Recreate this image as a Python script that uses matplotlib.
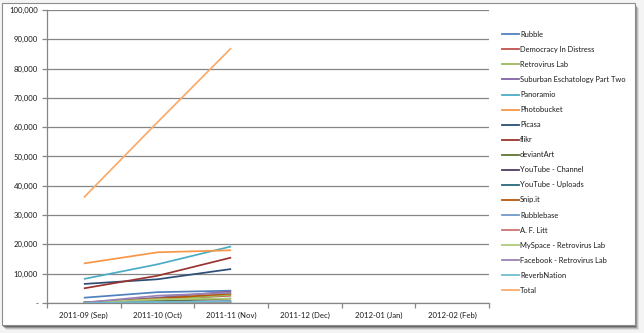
import matplotlib
matplotlib.use("Agg")
import matplotlib.pyplot as plt
from matplotlib.patches import Rectangle
from matplotlib.lines import Line2D

plt.rcParams['font.family'] = ['Lato', 'DejaVu Sans']

# Months on the x axis (only the first three have data)
months = ["2011-09 (Sep)", "2011-10 (Oct)", "2011-11 (Nov)",
          "2011-12 (Dec)", "2012-01 (Jan)", "2012-02 (Feb)"]

# Series names, in legend order
names = ["Rubble", "Democracy In Distress", "Retrovirus Lab",
         "Suburban Eschatology Part Two", "Panoramio", "Photobucket",
         "Picasa", "flikr", "deviantArt", "YouTube - Channel",
         "YouTube - Uploads", "Snip.it", "Rubblebase", "A. F. Litt",
         "MySpace - Retrovirus Lab", "Facebook - Retrovirus Lab",
         "ReverbNation", "Total"]

# Values per series, Sep / Oct / Nov
rubble = [1800, 3700, 4200]
democracy = [300, 1200, 2500]
retrovirus_lab = [200, 1000, 2800]
suburban = [100, 1800, 4000]
panoramio = [8200, 13200, 19300]
photobucket = [13500, 17300, 18000]
picasa = [6500, 8100, 11600]
flikr = [5000, 9300, 15500]
deviantart = [100, 600, 1500]
youtube_channel = [50, 300, 600]
youtube_uploads = [50, 200, 300]
snipit = [0, 1500, 3200]
rubblebase = [100, 400, 500]
af_litt = [0, 100, 200]
myspace = [50, 1300, 1500]
facebook = [100, 2500, 3500]
reverbnation = [0, 300, 500]
total = [36000, 61700, 87000]

series = [rubble, democracy, retrovirus_lab, suburban, panoramio, photobucket,
          picasa, flikr, deviantart, youtube_channel, youtube_uploads, snipit,
          rubblebase, af_litt, myspace, facebook, reverbnation, total]

# Excel 2007 default series colours
colors = ["#4F81BD", "#C0504D", "#9BBB59", "#8064A2", "#4BACC6", "#F79646",
          "#2C4D75", "#9A3431", "#5F7530", "#4D3B62", "#276A7C", "#B65708",
          "#729ACA", "#CD7371", "#AFC97A", "#9983B5", "#6FBDD1", "#F9AB6B"]

W, H = 644, 333
fig = plt.figure(figsize=(W / 100, H / 100), dpi=100)
fig.patch.set_facecolor("#f4f4f4")

# chart frame with drop shadow (kept behind the axes)
for i, a in enumerate([0.10, 0.18, 0.30, 0.45]):
    off = 4 - i
    fig.add_artist(Rectangle(((2 + off) / W, 1 - (326 + off) / H),
                             633 / W, 322 / H, transform=fig.transFigure,
                             facecolor="#303030", edgecolor="none", alpha=a,
                             zorder=-3))
fig.add_artist(Rectangle((2 / W, 1 - 325 / H), 633 / W, 322 / H,
                         transform=fig.transFigure, facecolor="white",
                         edgecolor="#8c8c8c", linewidth=0.8, zorder=-2))

ax = fig.add_axes([47 / W, 1 - 303 / H, (489 - 47) / W, (303 - 10) / H])
ax.set_facecolor("none")

x = list(range(len(months)))
for vals, col in zip(series, colors):
    ax.plot(x[:len(vals)], vals, color=col, linewidth=1.25, solid_capstyle="butt")

ax.set_xlim(-0.5, len(months) - 0.5)
ax.set_ylim(0, 100000)
ax.set_yticks(range(0, 100001, 10000))
ax.set_yticklabels(["-"] + [f"{v:,}" for v in range(10000, 100001, 10000)])
ax.yaxis.grid(True, color="#868686", linewidth=0.9)
ax.set_axisbelow(True)

ax.set_xticks(x)
ax.set_xticklabels(months)
ax.set_xticks([i - 0.5 for i in range(len(months) + 1)], minor=True)
ax.tick_params(axis="x", which="major", length=0, pad=6, labelsize=5.6,
               labelcolor="#1a1a1a")
ax.tick_params(axis="x", which="minor", length=3.5, color="#868686", width=0.9)
ax.tick_params(axis="y", length=3.5, color="#868686", width=0.9, pad=3,
               labelsize=5.6, labelcolor="#1a1a1a")

for s in ["top", "right"]:
    ax.spines[s].set_visible(False)
for s in ["left", "bottom"]:
    ax.spines[s].set_color("#868686")
    ax.spines[s].set_linewidth(0.9)

# legend, drawn entry by entry
y0, step = 34.3, 15.06
for i, (name, col) in enumerate(zip(names, colors)):
    yy = 1 - (y0 + i * step) / H
    fig.add_artist(Line2D([502 / W, 519 / W], [yy, yy], color=col,
                          linewidth=1.3, transform=fig.transFigure))
    fig.text(520 / W, yy, name, fontsize=5.4, va="center", ha="left",
             color="#1a1a1a")

fig.savefig("out.png", dpi=100)
